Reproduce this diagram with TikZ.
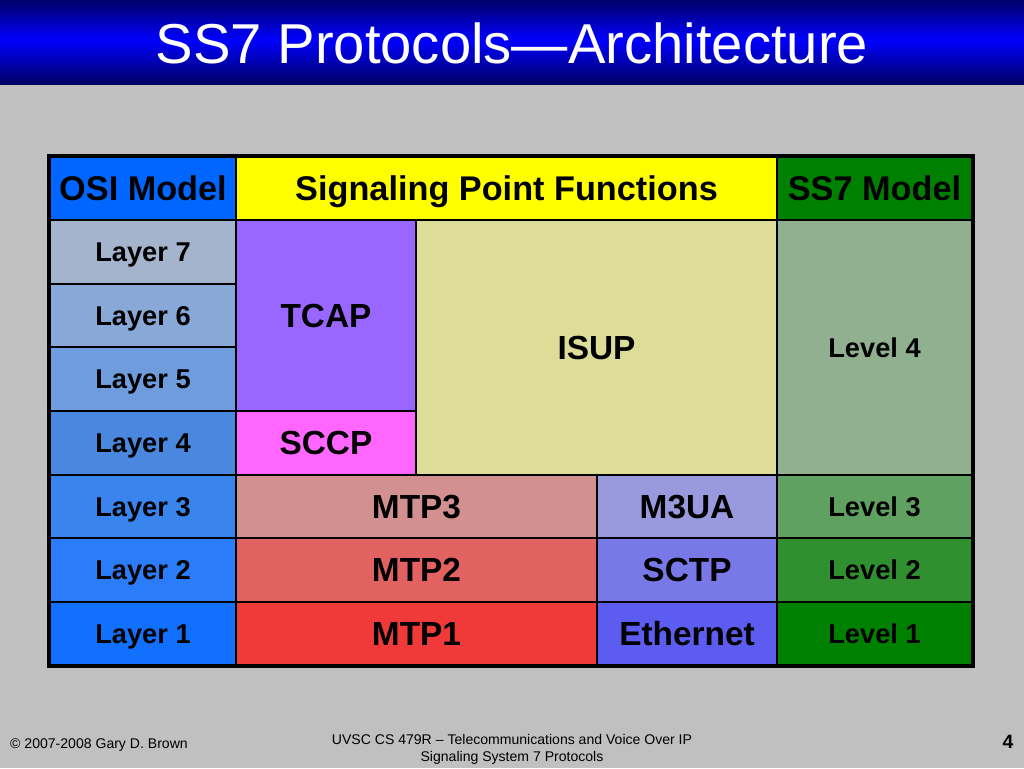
\documentclass[tikz,border=0pt]{standalone}
\usepackage{fontspec}
\setmainfont{Liberation Sans}

\definecolor{slidegray}{HTML}{C0C0C0}
\definecolor{osiblue}{HTML}{0066FF}
\definecolor{spfyellow}{HTML}{FFFF00}
\definecolor{ssgreen}{HTML}{008000}
\definecolor{layerA}{HTML}{A3B4CC}
\definecolor{layerB}{HTML}{88A8D8}
\definecolor{layerC}{HTML}{6E9CDC}
\definecolor{layerD}{HTML}{4A88E0}
\definecolor{layerE}{HTML}{3A84EE}
\definecolor{layerF}{HTML}{2A7CF8}
\definecolor{layerG}{HTML}{1270FF}
\definecolor{tcapc}{HTML}{9966FF}
\definecolor{sccpc}{HTML}{FF66FF}
\definecolor{isupc}{HTML}{DDDD99}
\definecolor{mtpA}{HTML}{D29090}
\definecolor{mtpB}{HTML}{E26262}
\definecolor{mtpC}{HTML}{F03A3A}
\definecolor{sigA}{HTML}{9999DD}
\definecolor{sigB}{HTML}{7878E6}
\definecolor{sigC}{HTML}{5C5CF0}
\definecolor{levA}{HTML}{90B090}
\definecolor{levB}{HTML}{60A060}
\definecolor{levC}{HTML}{309030}
\definecolor{levD}{HTML}{008000}

\begin{document}
\begin{tikzpicture}[
  x=0.02cm, y=-0.02cm,
  cell/.style={
    draw=black, line width=1pt, inner sep=0pt,
    text height=11.1pt, text depth=0pt,
    font=\bfseries\fontsize{15.5}{18}\selectfont
  },
  big/.style={cell, text height=13.6pt, font=\bfseries\fontsize{19}{22}\selectfont},
  head/.style={cell, text height=14pt, font=\bfseries\fontsize{19.5}{22}\selectfont},
  wh/.style 2 args={minimum width=#1*0.02cm, minimum height=#2*0.02cm},
  titletext/.style={text=white, font=\fontsize{32}{36}\selectfont},
  foot/.style={font=\fontsize{8}{9.6}\selectfont, align=center},
]

%% ── Slide background and title bar ───────────────────────────────────────
\useasboundingbox (0,0) rectangle (1024,768);
\fill[slidegray] (0,0) rectangle (1024,768);
\foreach \i in {0,...,84} {
  \pgfmathtruncatemacro\pct{ifthenelse(\i<40, 42+58*\i/40, 100-62*(\i-40)/45)}
  \fill[blue!\pct!black] (0,\i) rectangle (1024,\i+1.1);
}
\node[titletext] (title) at (512,43) {SS7 Protocols—Architecture};

%% ── Header row ────────────────────────────────────────────────────────────
\node[head, fill=osiblue,   wh={186}{63}] (osi) at (143,188.5) {OSI Model};
\node[head, fill=spfyellow, wh={541}{63}] (spf) at (506.5,188.5) {Signaling Point Functions};
\node[head, fill=ssgreen,   wh={195}{63}] (ss7) at (874.5,188.5) {SS7 Model};

%% ── OSI layers ────────────────────────────────────────────────────────────
\node[cell, fill=layerA, wh={186}{64}] (lay7) at (143,252) {Layer 7};
\node[cell, fill=layerB, wh={186}{63}] (lay6) at (143,315.5) {Layer 6};
\node[cell, fill=layerC, wh={186}{64}] (lay5) at (143,379) {Layer 5};
\node[cell, fill=layerD, wh={186}{64}] (lay4) at (143,443) {Layer 4};
\node[cell, fill=layerE, wh={186}{63}] (lay3) at (143,506.5) {Layer 3};
\node[cell, fill=layerF, wh={186}{64}] (lay2) at (143,570) {Layer 2};
\node[cell, fill=layerG, wh={186}{63}] (lay1) at (143,633.5) {Layer 1};

%% ── Signaling point functions ─────────────────────────────────────────────
\node[big, fill=tcapc, wh={180}{191}] (tcap) at (326,315.5) {TCAP};
\node[big, fill=sccpc, wh={180}{64}]  (sccp) at (326,443) {SCCP};
\node[big, fill=isupc, wh={361}{255}] (isup) at (596.5,347.5) {ISUP};
\node[big, fill=mtpA,  wh={361}{63}]  (mtp3) at (416.5,506.5) {MTP3};
\node[big, fill=mtpB,  wh={361}{64}]  (mtp2) at (416.5,570) {MTP2};
\node[big, fill=mtpC,  wh={361}{63}]  (mtp1) at (416.5,633.5) {MTP1};
\node[big, fill=sigA,  wh={180}{63}]  (m3ua) at (687,506.5) {M3UA};
\node[big, fill=sigB,  wh={180}{64}]  (sctp) at (687,570) {SCTP};
\node[big, fill=sigC,  wh={180}{63}]  (eth)  at (687,633.5) {Ethernet};

%% ── SS7 levels ────────────────────────────────────────────────────────────
\node[cell, fill=levA, wh={195}{255}] (lev4) at (874.5,347.5) {Level 4};
\node[cell, fill=levB, wh={195}{63}]  (lev3) at (874.5,506.5) {Level 3};
\node[cell, fill=levC, wh={195}{64}]  (lev2) at (874.5,570) {Level 2};
\node[cell, fill=levD, wh={195}{63}]  (lev1) at (874.5,633.5) {Level 1};

%% ── Outer frame ───────────────────────────────────────────────────────────
\draw[line width=2pt] (osi.north west) rectangle (lev1.south east);

%% ── Footer ────────────────────────────────────────────────────────────────
\node[foot, anchor=west] (copy) at (4,745) {© 2007-2008 Gary D. Brown};
\node[foot] (course) at (512,749)
  {UVSC CS 479R – Telecommunications and Voice Over IP\\Signaling System 7 Protocols};
\node[font=\bfseries\fontsize{11}{13}\selectfont] (page) at (1008,742) {4};

\end{tikzpicture}
\end{document}
